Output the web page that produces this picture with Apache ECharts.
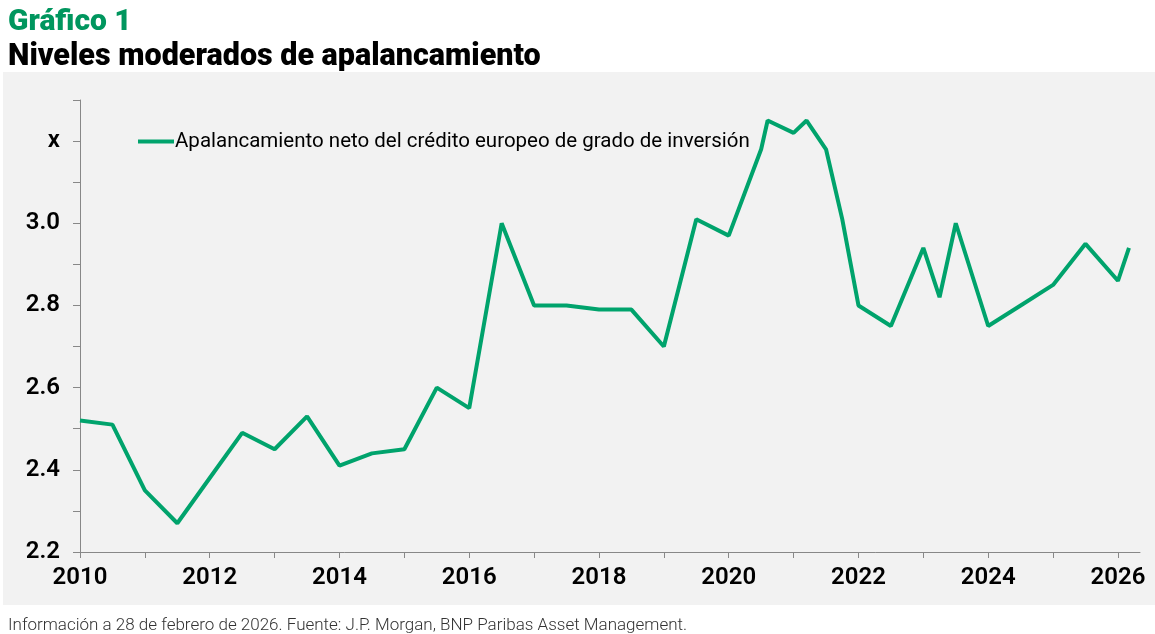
<!DOCTYPE html>
<html>
<head>
<meta charset="utf-8">
<script src="https://cdn.jsdelivr.net/npm/echarts@6/dist/echarts.min.js"></script>
<style>
  html, body { margin: 0; padding: 0; background: #fff; }
  #chart { width: 1155px; height: 634px; }
</style>
</head>
<body>
<div id="chart"></div>
<script>
// fechas (año decimal) y apalancamiento neto (x)
var fechas = [2010.0, 2010.5, 2011.0, 2011.5, 2012.0, 2012.5, 2013.0, 2013.5, 2014.0, 2014.5,
  2015.0, 2015.5, 2016.0, 2016.5, 2017.0, 2017.5, 2018.0, 2018.5, 2019.0, 2019.5,
  2020.0, 2020.5, 2020.6, 2021.0, 2021.2, 2021.5, 2021.75, 2022.0, 2022.5, 2023.0,
  2023.25, 2023.5, 2024.0, 2024.5, 2025.0, 2025.5, 2026.0, 2026.17];
var apalancamiento = [2.52, 2.51, 2.35, 2.27, 2.38, 2.49, 2.45, 2.53, 2.41, 2.44,
  2.45, 2.60, 2.55, 3.00, 2.80, 2.80, 2.79, 2.79, 2.70, 3.01,
  2.97, 3.18, 3.25, 3.22, 3.25, 3.18, 3.01, 2.80, 2.75, 2.94,
  2.82, 3.00, 2.75, 2.80, 2.85, 2.95, 2.86, 2.94];
var etiquetasY = { 22: '2.2', 24: '2.4', 26: '2.6', 28: '2.8', 30: '3.0', 32: 'x' };
var nombreSerie = 'Apalancamiento neto del crédito europeo de grado de inversión';

var verde = '#00a36c';
var fuente = 'Roboto, "Noto Sans", sans-serif';

var puntos = fechas.map(function (f, i) { return [f, apalancamiento[i]]; });

var chart = echarts.init(document.getElementById('chart'));
chart.setOption({
  animation: false,
  textStyle: { fontFamily: fuente },
  graphic: {
    elements: [{
      type: 'rect', z: -100,
      shape: { x: 3, y: 72, width: 1152, height: 533 },
      style: { fill: '#f2f2f2' }
    }]
  },
  title: [
    { text: 'Gráfico 1', left: 3, top: 2,
      textStyle: { color: '#00965e', fontSize: 30, fontWeight: 900, fontFamily: fuente } },
    { text: 'Niveles moderados de apalancamiento', left: 3, top: 37,
      textStyle: { color: '#000', fontSize: 30.5, fontWeight: 900, fontFamily: fuente } },
    { text: 'Información a 28 de febrero de 2026. Fuente: J.P. Morgan, BNP Paribas Asset Management.',
      left: 3, top: 612,
      textStyle: { color: '#333', fontSize: 17, fontWeight: 300, fontFamily: fuente } }
  ],
  legend: {
    left: 133, top: 126,
    itemWidth: 36, itemHeight: 4, itemGap: 0,
    icon: 'rect',
    textStyle: { fontSize: 20.5, color: '#000', padding: [0, 0, 0, -4] },
    data: [nombreSerie]
  },
  grid: { left: 80, right: 15, top: 100, bottom: 82 },
  xAxis: {
    type: 'value',
    min: 2010, max: 2026.34, interval: 1,
    axisLine: { lineStyle: { color: '#888', width: 1 } },
    axisTick: { show: true, length: 6, lineStyle: { color: '#888' } },
    splitLine: { show: false },
    axisLabel: {
      margin: 14, fontSize: 24, fontWeight: 600, color: '#000',
      showMaxLabel: false,
      formatter: function (v) { return (Math.round(v) % 2 === 0) ? String(Math.round(v)) : ''; }
    }
  },
  yAxis: {
    type: 'value',
    min: 2.2, max: 3.3, interval: 0.1,
    axisLine: { show: true, lineStyle: { color: '#888', width: 1 } },
    axisTick: { show: true, length: 7, lineStyle: { color: '#888' } },
    splitLine: { show: false },
    axisLabel: {
      margin: 20, fontSize: 24, fontWeight: 600, color: '#000',
      formatter: function (v) { return etiquetasY[Math.round(v * 10)] || ''; }
    }
  },
  series: [{
    name: nombreSerie,
    type: 'line',
    data: puntos,
    showSymbol: false,
    symbol: 'none',
    lineStyle: { color: verde, width: 4 },
    itemStyle: { color: verde }
  }]
});
</script>
</body>
</html>
